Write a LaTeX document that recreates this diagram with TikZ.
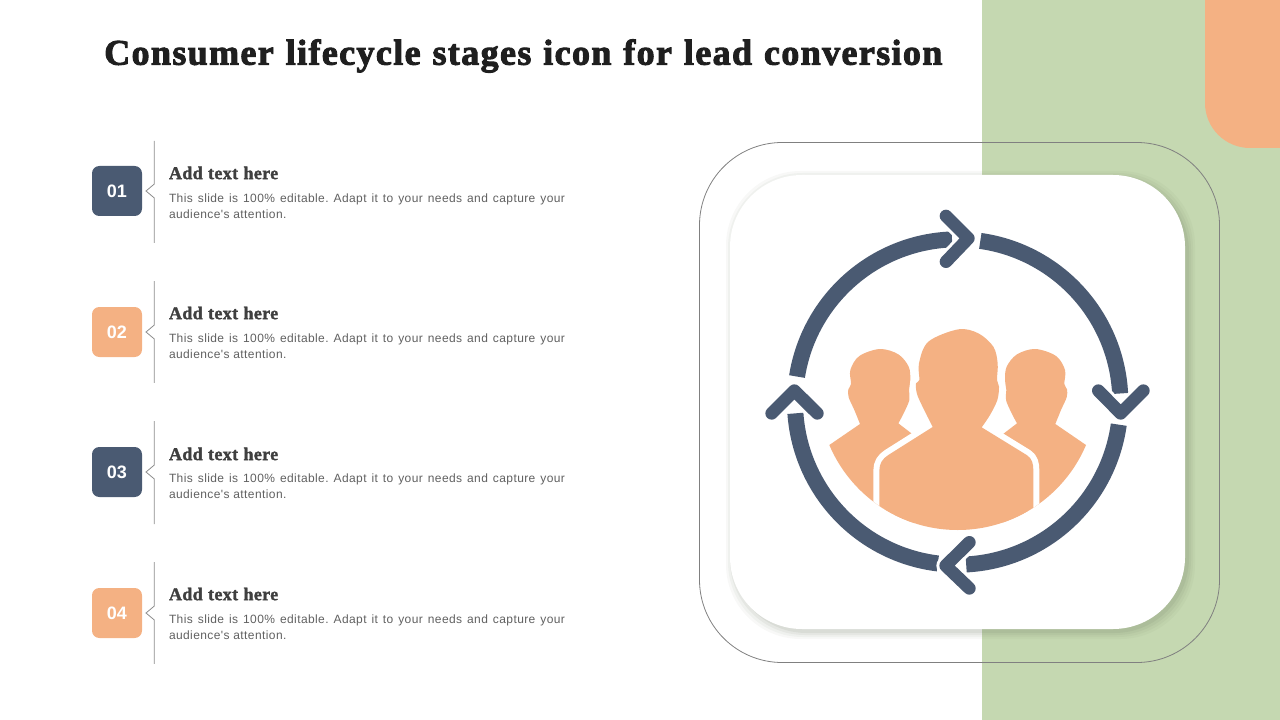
\documentclass[tikz,border=0pt]{standalone}
\usepackage{fontspec}
\setmainfont{Liberation Sans}
\newfontfamily\titlefont[LetterSpace=3.8,WordSpace=1.15,BoldFeatures={FakeBold=2.6}]{Liberation Serif}
\newfontfamily\headfont[LetterSpace=2,WordSpace=1.1,BoldFeatures={FakeBold=1.8}]{Liberation Serif}
\newfontfamily\copyfont[LetterSpace=3.4,WordSpace=1]{Liberation Sans}
\usetikzlibrary{positioning}
\definecolor{navy}{HTML}{4A5A72}
\definecolor{peach}{HTML}{F4B183}
\definecolor{sage}{HTML}{C5D8B1}
\definecolor{rulegray}{HTML}{8C8C8C}
\definecolor{bodygray}{HTML}{606060}
\definecolor{headgray}{HTML}{3F3F3F}
\newcommand{\bodytext}{\frenchspacing This slide is 100\% editable. Adapt it to your needs and capture your\linebreak audience's attention.}
\newcommand{\sideperson}{
    (100,800) -- (208,735) -- (300,672)
    -- plot[smooth,tension=.55] coordinates {(300,672) (283,630) (266,592) (265,568) (273,552) (271,510) (298,468) (360,447) (415,463) (446,500) (451,540) (447,570) (448,600) (431,640) (415,670)}
    -- (458,703) -- (458,1000) -- (100,1000) -- cycle}
\newcommand{\centerperson}{
    (358,1000) -- (358,812)
    to[out=90,in=-148] (385,765) -- (518,681)
    -- plot[smooth,tension=.55] coordinates {(518,681) (490,625) (471,582) (468,550) (478,540) (477,490) (505,425) (595,388) (655,400) (700,440) (713,490) (711,540) (717,560) (712,600) (690,645) (665,682)}
    -- (800,765) to[out=-32,in=90] (820,812) -- (820,1000) -- cycle}
\begin{document}
\begin{tikzpicture}[x=.75pt,y=-.75pt,
    numbox/.style={minimum size=37.5pt,rounded corners=5.5pt,inner sep=0pt,outer sep=0pt,text=white,font=\fontsize{13.5}{15}\selectfont\bfseries},
    headtxt/.style={inner sep=0pt,outer sep=0pt,text=headgray,font=\headfont\fontsize{13.5}{15}\selectfont\bfseries},
    bodytxt/.style={inner sep=0pt,outer sep=0pt,text width=297pt,align=justify,text=bodygray,font=\copyfont\fontsize{9}{12}\selectfont},
    notchrule/.style={draw=rulegray,line width=.6pt},
    ringarc/.style={draw=navy,line width=12pt},
    chevron/.style={draw=navy,line width=9.5pt,line cap=round,line join=round},
    chevronhalo/.style={draw=white,line width=14pt,line cap=round,line join=round},
    iconpart/.style={shift={(760,200)},x=.25pt,y=-.25pt}]
    \useasboundingbox (0,0) rectangle (1280,720);
    %
    \fill[sage] (982,0) rectangle (1280,720);
    \fill[peach] (1205,0) -- (1280,0) -- (1280,148) -- (1250,148) arc[start angle=90,end angle=180,radius=45] -- cycle;
    %
    \node[anchor=west,inner sep=0pt,text=black!88,font=\titlefont\fontsize{27}{30}\selectfont\bfseries](title) at (104,56){Consumer lifecycle stages icon for lead conversion};
    %
    \node[numbox,fill=navy](n1) at (117,191){01};
    \node[numbox,fill=peach](n2) at (117,332){02};
    \node[numbox,fill=navy](n3) at (117,472){03};
    \node[numbox,fill=peach](n4) at (117,613){04};
    %
    \node[headtxt,right=20.25pt of n1.north east,anchor=west,yshift=-5.2pt](h1){Add text here};
    \node[headtxt,right=20.25pt of n2.north east,anchor=west,yshift=-4.5pt](h2){Add text here};
    \node[headtxt,right=20.25pt of n3.north east,anchor=west,yshift=-5.2pt](h3){Add text here};
    \node[headtxt,right=20.25pt of n4.north east,anchor=west,yshift=-4.5pt](h4){Add text here};
    %
    \node[bodytxt,below=11pt of h1.south west,anchor=north west](b1){\bodytext};
    \node[bodytxt,below=11pt of h2.south west,anchor=north west](b2){\bodytext};
    \node[bodytxt,below=10.25pt of h3.south west,anchor=north west](b3){\bodytext};
    \node[bodytxt,below=11pt of h4.south west,anchor=north west](b4){\bodytext};
    %
    \coordinate[xshift=9.2pt,yshift=37.5pt](r1a) at (n1.east);
    \coordinate[xshift=9.2pt,yshift=-39pt](r1b) at (n1.east);
    \coordinate[xshift=9.2pt,yshift=38.2pt](r2a) at (n2.east);
    \coordinate[xshift=9.2pt,yshift=-38.2pt](r2b) at (n2.east);
    \coordinate[xshift=9.2pt,yshift=38.2pt](r3a) at (n3.east);
    \coordinate[xshift=9.2pt,yshift=-39pt](r3b) at (n3.east);
    \coordinate[xshift=9.2pt,yshift=38.2pt](r4a) at (n4.east);
    \coordinate[xshift=9.2pt,yshift=-38.2pt](r4b) at (n4.east);
    %
    \draw[notchrule] (r1a) -- ([yshift=5.2pt]n1.east -| r1a) -- ([xshift=3pt]n1.east) -- ([yshift=-5.2pt]n1.east -| r1a) -- (r1b);
    \draw[notchrule] (r2a) -- ([yshift=5.2pt]n2.east -| r2a) -- ([xshift=3pt]n2.east) -- ([yshift=-5.2pt]n2.east -| r2a) -- (r2b);
    \draw[notchrule] (r3a) -- ([yshift=5.2pt]n3.east -| r3a) -- ([xshift=3pt]n3.east) -- ([yshift=-5.2pt]n3.east -| r3a) -- (r3b);
    \draw[notchrule] (r4a) -- ([yshift=5.2pt]n4.east -| r4a) -- ([xshift=3pt]n4.east) -- ([yshift=-5.2pt]n4.east -| r4a) -- (r4b);
    %
    \draw[gray,line width=.6pt,rounded corners=62pt] (699.5,142.5) rectangle (1219.5,662.5);
    \foreach \grow/\alpha in {7/.05,5/.06,3/.08,1/.10}
        \fill[black!45!sage,opacity=\alpha,rounded corners=56pt] (730+3-\grow,175+3-\grow) rectangle (1185+3+\grow,629+3+\grow);
    \fill[white,rounded corners=54pt] (730,175) rectangle (1185,629);
    %
    \begin{scope}[iconpart]
        \draw[ringarc] (593,606) ++(-171:488) arc[start angle=-171,end angle=-92,radius=488];
        \draw[ringarc] (593,606) ++(-82:488) arc[start angle=-82,end angle=-3,radius=488];
        \draw[ringarc] (593,606) ++(8:488) arc[start angle=8,end angle=87,radius=488];
        \draw[ringarc] (593,606) ++(97:488) arc[start angle=97,end angle=176,radius=488];
        %
        \draw[chevronhalo] (558,48) -- (625,115) -- (558,185);
        \draw[chevronhalo] (1015,572) -- (1082,640) -- (1150,572);
        \draw[chevronhalo] (628,1027) -- (557,1097) -- (628,1165);
        \draw[chevronhalo] (35,640) -- (103,572) -- (172,640);
        \draw[chevron] (558,48) -- (625,115) -- (558,185);
        \draw[chevron] (1015,572) -- (1082,640) -- (1150,572);
        \draw[chevron] (628,1027) -- (557,1097) -- (628,1165);
        \draw[chevron] (35,640) -- (103,572) -- (172,640);
        %
        \begin{scope}
            \clip (593,572) circle[radius=418];
            \fill[peach] \sideperson;
            \begin{scope}[xshift=296.5pt,xscale=-1]
                \fill[peach] \sideperson;
            \end{scope}
            \draw[white,line width=9pt,line join=round] \centerperson;
            \fill[peach] \centerperson;
        \end{scope}
    \end{scope}
\end{tikzpicture}
\end{document}
